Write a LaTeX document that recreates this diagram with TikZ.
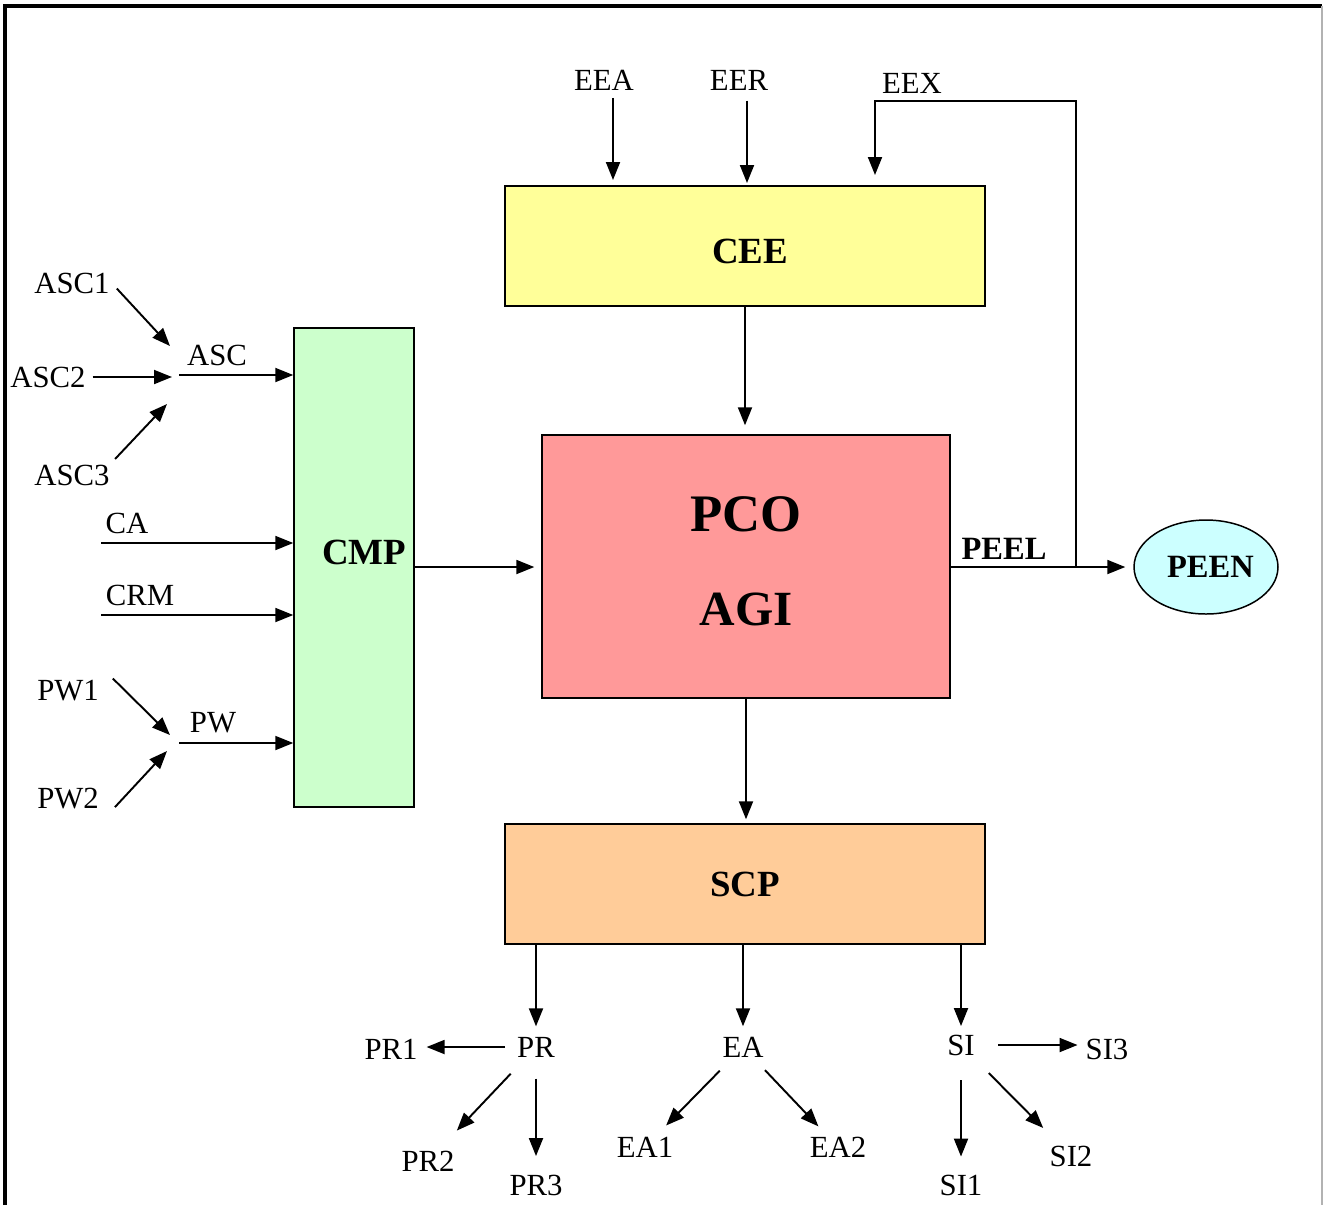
\documentclass[tikz,border=0pt]{standalone}
\usepackage{fontspec}
\setmainfont{Liberation Serif}
\usetikzlibrary{arrows.meta,shapes.geometric}

\definecolor{ceeYellow}{HTML}{FFFF99}
\definecolor{pcoRed}{HTML}{FF9999}
\definecolor{cmpGreen}{HTML}{CCFFCC}
\definecolor{scpOrange}{HTML}{FFCC99}
\definecolor{peenCyan}{HTML}{CCFFFF}

\tikzset{
  blk/.style={draw, line width=0.85pt, inner sep=0pt},
  lbl/.style={font=\fontsize{17.5}{21}\selectfont, inner sep=1pt},
  bold/.style={font=\fontsize{21}{25}\selectfont\bfseries, inner sep=1pt},
  arr/.style={-{Triangle[length=3.6mm,width=2.8mm]}, line width=1.1pt},
}

\begin{document}
\begin{tikzpicture}[x=0.02cm, y=-0.02cm]
	\useasboundingbox (0,0) rectangle (1324,1205);
	% frame
	\draw[line width=1.8pt] (5,1205) -- (5,6) -- (1322,6);
	\draw[gray!60, line width=0.6pt] (1322,6) -- (1322,1205);
	
	% blocks
	\node[blk, fill=ceeYellow, minimum width=9.6cm, minimum height=2.4cm] (CEE) at (745,246) {};
	\node[bold] (ceeTxt) at (750,251) {CEE};
	\node[blk, fill=pcoRed, minimum width=8.16cm, minimum height=5.26cm] (PCO) at (746,566.5) {};
	\node[bold, font=\fontsize{30}{36}\selectfont\bfseries] (pcoTxt) at (746,514) {PCO};
	\node[bold, font=\fontsize{28}{34}\selectfont\bfseries] (agiTxt) at (746,609) {AGI};
	\node[blk, fill=cmpGreen, minimum width=2.4cm, minimum height=9.58cm] (CMP) at (354,567.5) {};
	\node[bold] (cmpTxt) at (364,552) {CMP};
	\node[blk, fill=scpOrange, minimum width=9.6cm, minimum height=2.4cm, bold] (SCP) at (745,884) {SCP};
	\node[blk, ellipse, fill=peenCyan, minimum width=2.88cm, minimum height=1.88cm, bold, font=\fontsize{18.5}{22}\selectfont\bfseries] (PEEN) at (1206,567) {\hspace{5pt}PEEN};
	
	% labels
	\node[lbl] (EEA) at (604,80) {EEA};
	\node[lbl] (EER) at (739,80) {EER};
	\node[lbl] (EEX) at (912,83) {EEX};
	\node[lbl] (ASC1) at (72,283) {ASC1};
	\node[lbl] (ASC2) at (48,377) {ASC2};
	\node[lbl] (ASC3) at (72,475) {ASC3};
	\node[lbl] (ASC) at (217,355) {ASC};
	\node[lbl] (CA) at (127,523) {CA};
	\node[lbl] (CRM) at (140,595) {CRM};
	\node[lbl] (PW1) at (68,691) {PW1};
	\node[lbl] (PW) at (213,723) {PW};
	\node[lbl] (PW2) at (68,799) {PW2};
	\node[bold, font=\fontsize{18.5}{22}\selectfont\bfseries] (PEEL) at (1004,549) {PEEL};
	\node[lbl] (PR) at (536,1047) {PR};
	\node[lbl] (PR1) at (391,1049) {PR1};
	\node[lbl] (PR2) at (428,1161) {PR2};
	\node[lbl] (PR3) at (536,1185) {PR3};
	\node[lbl] (EA) at (743,1047) {EA};
	\node[lbl] (EA1) at (645,1147) {EA1};
	\node[lbl] (EA2) at (838,1147) {EA2};
	\node[lbl] (SI) at (961,1045) {SI};
	\node[lbl] (SI1) at (961,1185) {SI1};
	\node[lbl] (SI2) at (1071,1156) {SI2};
	\node[lbl] (SI3) at (1107,1049) {SI3};
	
	% arrow ends
	\coordinate (eeaIn) at (613,180);
	\coordinate (eerIn) at (747,183);
	\coordinate (eexIn) at (875,175);
	\coordinate (fb) at (1076,567);
	\coordinate (ascIn1) at (170,346);
	\coordinate (ascIn2) at (172,377);
	\coordinate (ascIn3) at (167,404);
	\coordinate (ascOut) at (179,375);
	\coordinate (caIn) at (101,543);
	\coordinate (crmIn) at (101,615);
	\coordinate (pwIn1) at (170,735);
	\coordinate (pwIn2) at (167,751);
	\coordinate (pwOut) at (179,743);
	
	% inputs on top
	\draw[arr, shorten <=1.1mm] (EEA.south -| eeaIn) -- (eeaIn);
	\draw[arr, shorten <=1.7mm] (EER.south -| eerIn) -- (eerIn);
	\draw[arr] (fb) -- (1076,101) -| (eexIn);
	
	% main flow
	\draw[arr, shorten >=1.8mm] (CEE.south) -- (CEE.south |- PCO.north);
	\draw[arr, shorten >=1.4mm] (CMP.east |- fb) -- (PCO.west |- fb);
	\draw[arr, shorten >=1.6mm] (PCO.east |- fb) -- (PEEN.west);
	\draw[arr, shorten >=0.8mm] (PCO.south) -- (PCO.south |- SCP.north);
	
	% inputs on the left
	\draw[arr, shorten <=1.5mm] (ASC1.east) -- (ascIn1);
	\draw[arr, shorten <=1mm] (ASC2.east) -- (ascIn2);
	\draw[arr, shorten <=1mm] (ASC3.north east) -- (ascIn3);
	\draw[arr] (ascOut) -- (ascOut -| CMP.west);
	\draw[arr] (caIn) -- (caIn -| CMP.west);
	\draw[arr] (crmIn) -- (crmIn -| CMP.west);
	\draw[arr] ([xshift=2.4mm]PW1.north east) -- (pwIn1);
	\draw[arr, shorten <=1.2mm] ([xshift=2mm]PW2.south east) -- (pwIn2);
	\draw[arr] (pwOut) -- (pwOut -| CMP.west);
	
	% outputs
	\draw[arr, shorten >=1.7mm] (SCP.south -| PR) -- (PR.north);
	\draw[arr, shorten >=1.7mm] (SCP.south -| EA) -- (EA.north);
	\draw[arr, shorten >=1.3mm] (SCP.south -| SI) -- (SI.north);
	\draw[arr, shorten <=2mm, shorten >=1.4mm] (PR.west) -- (PR.west -| PR1.east);
	\draw[arr, shorten <=4mm, shorten >=5mm] (PR) -- (PR2);
	\draw[arr, shorten <=3.9mm, shorten >=3.3mm] (PR) -- (PR3);
	\draw[arr, shorten <=3.2mm, shorten >=2.6mm] (EA) -- (EA1);
	\draw[arr, shorten <=3mm, shorten >=2.3mm] (EA) -- (EA2);
	\draw[arr, shorten <=4.6mm, shorten >=3.2mm] (SI) -- (SI1);
	\draw[arr, shorten <=4.4mm, shorten >=4.4mm] (SI) -- (SI2);
	\draw[arr, shorten <=4.3mm, shorten >=1.2mm] (SI.east) -- (SI.east -| SI3.west);
	
\end{tikzpicture}
\end{document}
